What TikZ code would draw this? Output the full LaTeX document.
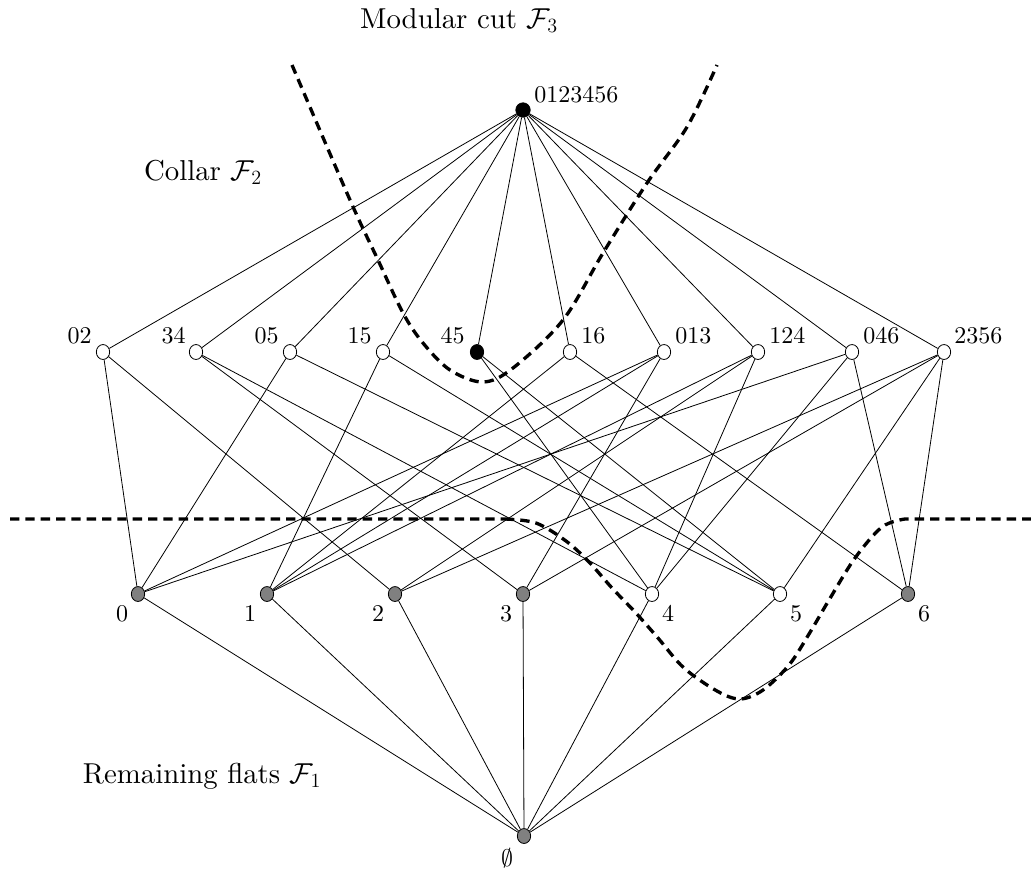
\RequirePackage{fix-cm}
\documentclass[tikz,border=0pt]{standalone}
\usepackage{fontspec}
\setmainfont{lmroman10-regular}[Extension=.otf]
\usetikzlibrary{shapes.geometric,calc}
\begin{document}
\begin{tikzpicture}[x=0.75pt,y=-0.75pt,
  vtx/.style={ellipse,draw=black,line width=0.6pt,inner sep=0pt,minimum width=10pt,minimum height=11.2pt},
  wv/.style={vtx,fill=white},
  gv/.style={vtx,fill=gray},
  bv/.style={vtx,fill=black},
  lab/.style={inner sep=0pt,font=\fontsize{18}{22}\selectfont},
  big/.style={inner sep=0pt,font=\fontsize{21.6}{26}\selectfont},
  edge/.style={line width=0.6pt},
  cut/.style={line width=2.5pt,dash pattern=on 7pt off 4.5pt}]
\useasboundingbox (0,0) rectangle (1031,869);
% top
\node[bv,minimum width=10.8pt,minimum height=10.8pt] (top) at (523,110) {};
% rank 2
\node[wv] (n02) at (103,352) {};
\node[wv] (n34) at (196,352) {};
\node[wv] (n05) at (290,352) {};
\node[wv] (n15) at (383,352) {};
\node[bv] (n45) at (477,352) {};
\node[wv] (n16) at (570,352) {};
\node[wv] (n013) at (664,352) {};
\node[wv] (n124) at (758,352) {};
\node[wv] (n046) at (852,352) {};
\node[wv] (n2356) at (944,352) {};
% rank 1
\node[gv] (a0) at (138,594) {};
\node[gv] (a1) at (267,594) {};
\node[gv] (a2) at (395,594) {};
\node[gv] (a3) at (523,594) {};
\node[wv] (a4) at (652,594) {};
\node[wv] (a5) at (780,594) {};
\node[gv] (a6) at (908,594) {};
% bottom
\node[gv] (bot) at (524,836) {};
% labels
\node[lab,anchor=base west] (l0123456) at ($(top)+(11,-8)$) {0123456};
\node[lab,anchor=base east] (l02) at ($(n02)+(-11,-9)$) {02};
\node[lab,anchor=base east] (l34) at ($(n34)+(-10,-9)$) {34};
\node[lab,anchor=base east] (l05) at ($(n05)+(-11,-9)$) {05};
\node[lab,anchor=base east] (l15) at ($(n15)+(-11,-9)$) {15};
\node[lab,anchor=base east] (l45) at ($(n45)+(-12,-9)$) {45};
\node[lab,anchor=base west] (l16) at ($(n16)+(11,-9)$) {16};
\node[lab,anchor=base west] (l013) at ($(n013)+(11,-9)$) {013};
\node[lab,anchor=base west] (l124) at ($(n124)+(11,-9)$) {124};
\node[lab,anchor=base west] (l046) at ($(n046)+(11,-9)$) {046};
\node[lab,anchor=base west] (l2356) at ($(n2356)+(10,-9)$) {2356};
\node[lab,anchor=base] (l0) at ($(a0)+(-16,27)$) {0};
\node[lab,anchor=base] (l1) at ($(a1)+(-17,27)$) {1};
\node[lab,anchor=base] (l2) at ($(a2)+(-17,27)$) {2};
\node[lab,anchor=base] (l3) at ($(a3)+(-17,27)$) {3};
\node[lab,anchor=base] (l4) at ($(a4)+(16,27)$) {4};
\node[lab,anchor=base] (l5) at ($(a5)+(16,27)$) {5};
\node[lab,anchor=base] (l6) at ($(a6)+(16,27)$) {6};
\node[lab] (lempty) at ($(bot)+(-17,22)$) {$\emptyset$};
\node[big,anchor=base] (tmod) at (459,28) {Modular cut $\mathcal{F}_3$};
\node[big,anchor=base] (tcol) at (203,180) {Collar $\mathcal{F}_2$};
\node[big,anchor=base] (trem) at (202,783) {Remaining flats $\mathcal{F}_1$};
% edges
\foreach \n in {n02,n34,n05,n15,n45,n16,n013,n124,n046,n2356}
  \draw[edge] (top) -- (\n);
\foreach \a/\b in {n02/a0,n02/a2,n34/a3,n34/a4,n05/a0,n05/a5,n15/a1,n15/a5,n45/a4,n45/a5,
  n16/a1,n16/a6,n013/a0,n013/a1,n013/a3,n124/a1,n124/a2,n124/a4,n046/a0,n046/a4,n046/a6,
  n2356/a2,n2356/a3,n2356/a5,n2356/a6}
  \draw[edge] (\a) -- (\b);
\foreach \n in {a0,a1,a2,a3,a4,a5,a6}
  \draw[edge] (bot) -- (\n);
% dashed cuts
\draw[cut] plot[smooth,tension=0.55] coordinates {(292,65) (350,200) (378,260) (403,313) (423,343) (450,370) (483,382) (513,368) (563,320) (603,253) (647,183) (687,127) (717,65)};
\draw[cut] (10,519) -- (505,519) plot[smooth,tension=0.55] coordinates {(505,519) (536,523) (566,541) (589,562) (612,588) (635,612) (658,638) (684,668) (717,691) (740,699) (763,690) (789,665) (809,634) (829,600) (855,558) (882,527) (905,519)} -- (1031,519);
\end{tikzpicture}
\end{document}
